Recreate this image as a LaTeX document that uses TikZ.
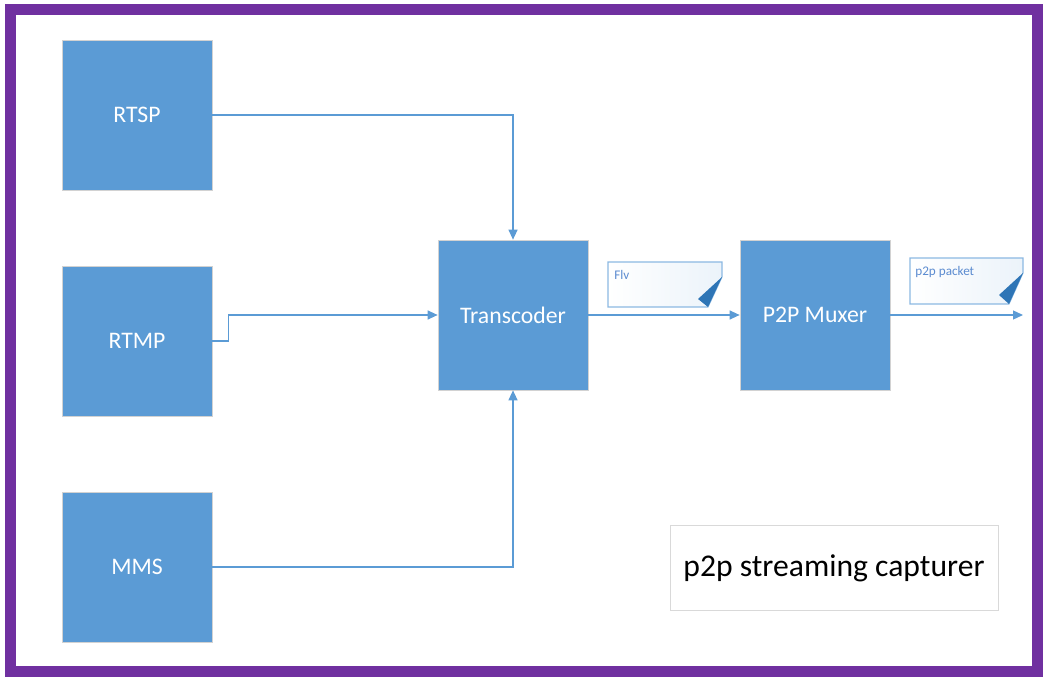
\documentclass[tikz,border=0pt]{standalone}
\usepackage{fontspec}
\setmainfont{Carlito}
\usepackage{xcolor}
\usetikzlibrary{positioning,arrows.meta}

\definecolor{boxblue}{HTML}{5B9BD5}
\definecolor{foldblue}{HTML}{2E75B6}
\definecolor{framepurple}{HTML}{7030A0}
\definecolor{notetext}{HTML}{5B8BD0}

\begin{document}
\begin{tikzpicture}[x=0.2mm,y=-0.2mm,
	block/.style={rectangle,fill=boxblue,draw=gray!35,line width=0.4pt,minimum size=3cm,
		inner sep=0pt,text=white,font=\fontsize{13.5}{16}\selectfont},
	link/.style={draw=boxblue,line width=0.7pt,-{Triangle[length=2mm,width=1.8mm]}},
	notebox/.style={draw=boxblue!70,line width=0.6pt,left color=white,right color=boxblue!12},
	notelabel/.style={anchor=north west,inner sep=0pt,text=notetext,font=\fontsize{7.5}{9}\selectfont}]
	\useasboundingbox (0,0) rectangle (1048,684);

	% frame
	\draw [framepurple,line width=2.2mm] (10.5,9.5) rectangle (1037,671);

	% blocks
	\node [block] at (137,115) (rtsp) {RTSP};
	\node [block] at (137,341) (rtmp) {RTMP};
	\node [block] at (137,567) (mms) {MMS};
	\node [block] at (513,315) (trans) {Transcoder};
	\node [block] at (815,315) (mux) {P2P Muxer};
	\coordinate (out) at (1023,315);

	% notes
	\draw [notebox] (608,262) -- (722,262) -- (722,277) -- (708,307) -- (608,307) -- cycle;
	\fill [foldblue] (722,277) -- (698,299) -- (708,307) -- cycle;
	\node [notelabel] at (614,270) (flv) {Flv};
	\draw [notebox] (910,258) -- (1023,258) -- (1023,273) -- (1009,304) -- (910,304) -- cycle;
	\fill [foldblue] (1023,273) -- (999,295) -- (1009,304) -- cycle;
	\node [notelabel] at (915,266) (pkt) {p2p packet};

	% caption
	\node [draw=gray!30,line width=0.5pt,minimum width=6.56cm,minimum height=1.7cm,
		font=\fontsize{18}{21}\selectfont] at (834,568) (cap) {p2p streaming capturer};

	% connectors
	\path [link] (rtsp.east) -| (trans.north);
	\path [link] (rtmp.east) -- ++(16,0) |- (trans.west);
	\path [link] (mms.east) -| (trans.south);
	\path [link] (trans) -- (mux);
	\path [link] (mux) -- (out);
\end{tikzpicture}
\end{document}
